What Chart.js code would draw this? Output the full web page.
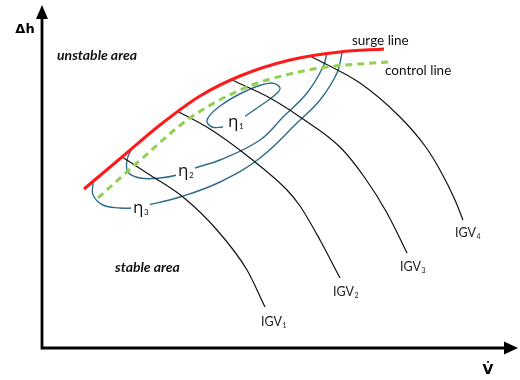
<!DOCTYPE html>
<html>
<head>
<meta charset="utf-8">
<script src="https://cdn.jsdelivr.net/npm/chart.js@4/dist/chart.umd.min.js"></script>
<style>
  html, body { margin: 0; padding: 0; background: #ffffff; }
  canvas { display: block; }
</style>
</head>
<body>
<canvas id="map" width="520" height="380"></canvas>
<script>
// Compressor performance map: volume flow (x) against head (y), arbitrary units.
// Each curve is a list of [flow, head] pairs.
const surgeLine   = [[42,159],[80,191],[118,223],[158,252],[198,272],[248,288],[298,296],[342,299]];
const controlLine = [[56,150],[95,185],[148,230],[205,261],[248,274],[285,281],[346,286]];

const igv1 = [[80,191],[108,173],[141,151],[175,118],[205,78],[223,41]];
const igv2 = [[135,237],[168,219],[208,190],[245,158],[258,142],[278,108],[298,70]];
const igv3 = [[190,268],[228,250],[258,231],[298,201],[323,170],[345,135],[365,95]];
const igv4 = [[268,292],[318,265],[358,231],[383,202],[398,178],[413,148],[421,128]];

const eta1 = [[199,229],[218,242],[233,253],[238,260],[229,265],[206,258],[178,242],[165,228],[170,221],[181,221]];
const eta2 = [[90,200],[85,188],[86,176],[98,170],[118,170],[135,173],[153,180],[178,188],[218,208],[241,231],[265,255],[281,281],[285,295]];
const eta3 = [[51,165],[51,153],[61,143],[78,140],[90,140],[106,143],[138,151],[178,166],[218,190],[255,225],[278,248],[295,275],[300,295]];

// Text shown on the map
const regionLabels = ['unstable area', 'stable area'];
const lineLabels   = ['surge line', 'control line'];
const etaLabels    = ['η', 'η', 'η'];
const etaIndex     = ['1', '2', '3'];
const igvLabels    = ['IGV', 'IGV', 'IGV', 'IGV'];
const igvIndex     = ['1', '2', '3', '4'];
const axisTitles   = ['Δh', 'V\u0307'];

const toXY = arr => arr.map(([x, y]) => ({ x, y }));

const BLUE = '#2d6b8c';
// monotone curves follow the flow direction; loops use plain tension
function curve(data, color, width, order, opts) {
  return Object.assign({
    data: toXY(data),
    showLine: true,
    borderColor: color,
    borderWidth: width,
    pointRadius: 0,
    cubicInterpolationMode: 'monotone',
    tension: 0.4,
    fill: false,
    order: order
  }, opts || {});
}
const loop = { cubicInterpolationMode: 'default', tension: 0.4 };

// Annotation positions in data units
const textPlacement = {
  regions: [[15, 293], [73, 81]],
  lines:   [[310, 307], [343, 277]],
  etas:    [[186, 226], [136, 177], [91, 140]],
  igvs:    [[219, 26], [291, 56], [358, 81], [413, 115]],
  axes:    [[-17, 318], [446, -22]]
};

function drawSub(ctx, base, sub, x, y, font, subFont, color, clearBg) {
  ctx.font = font;
  const wb = ctx.measureText(base).width;
  ctx.font = subFont;
  const ws = ctx.measureText(sub).width;
  if (clearBg) {
    ctx.fillStyle = '#ffffff';
    ctx.fillRect(x - 2, y - 7, wb + ws + 4, 14);
  }
  ctx.fillStyle = color;
  ctx.textAlign = 'left';
  ctx.textBaseline = 'middle';
  ctx.font = font;
  ctx.fillText(base, x, y);
  ctx.font = subFont;
  ctx.fillText(sub, x + wb + 0.5, y + 4);
}

const mapDecor = {
  id: 'mapDecor',
  afterDatasetsDraw(chart) {
    const { ctx, chartArea: a, scales: { x: sx, y: sy } } = chart;
    const px = v => sx.getPixelForValue(v);
    const py = v => sy.getPixelForValue(v);
    ctx.save();

    // axes with arrow heads
    ctx.strokeStyle = '#000';
    ctx.fillStyle = '#000';
    ctx.lineWidth = 2.8;
    ctx.beginPath();
    ctx.moveTo(a.left, a.bottom);
    ctx.lineTo(a.left, a.top + 12);
    ctx.moveTo(a.left - 1.4, a.bottom);
    ctx.lineTo(a.right - 12, a.bottom);
    ctx.stroke();
    ctx.beginPath();
    ctx.moveTo(a.left, a.top);
    ctx.lineTo(a.left - 6, a.top + 14);
    ctx.lineTo(a.left + 6, a.top + 14);
    ctx.closePath();
    ctx.fill();
    ctx.beginPath();
    ctx.moveTo(a.right, a.bottom);
    ctx.lineTo(a.right - 14, a.bottom - 6.5);
    ctx.lineTo(a.right - 14, a.bottom + 6.5);
    ctx.closePath();
    ctx.fill();

    // axis titles
    ctx.textAlign = 'center';
    ctx.textBaseline = 'middle';
    ctx.font = 'bold 13px "DejaVu Sans", sans-serif';
    ctx.fillText(axisTitles[0], px(textPlacement.axes[0][0]), py(textPlacement.axes[0][1]));
    ctx.font = 'bold 14px "DejaVu Sans", sans-serif';
    ctx.fillText(axisTitles[1], px(textPlacement.axes[1][0]), py(textPlacement.axes[1][1]));

    // region names
    ctx.textAlign = 'left';
    ctx.fillStyle = '#111';
    ctx.font = 'italic bold 14px Lato, "Open Sans", sans-serif';
    regionLabels.forEach((s, i) => {
      const [x, y] = textPlacement.regions[i];
      ctx.fillText(s, px(x), py(y));
    });

    // line names
    ctx.font = '13.5px Lato, "Open Sans", sans-serif';
    lineLabels.forEach((s, i) => {
      const [x, y] = textPlacement.lines[i];
      ctx.fillText(s, px(x), py(y));
    });

    // efficiency labels, sitting on their contours
    etaLabels.forEach((s, i) => {
      const [x, y] = textPlacement.etas[i];
      drawSub(ctx, s, etaIndex[i], px(x), py(y),
        '17px "Open Sans", "Noto Sans", sans-serif', '8px Lato, sans-serif', '#111', true);
    });

    // guide vane labels
    igvLabels.forEach((s, i) => {
      const [x, y] = textPlacement.igvs[i];
      drawSub(ctx, s, igvIndex[i], px(x), py(y),
        '12.5px Lato, "Open Sans", sans-serif', '7px Lato, sans-serif', '#222', false);
    });

    ctx.restore();
  }
};

new Chart(document.getElementById('map'), {
  type: 'scatter',
  data: {
    datasets: [
      curve(surgeLine, '#ff1a1a', 3, 0),
      curve(controlLine, '#92d050', 3, 1, { borderDash: [7, 5] }),
      curve(eta1, BLUE, 1.4, 3, loop),
      curve(eta2, BLUE, 1.4, 3, loop),
      curve(eta3, BLUE, 1.4, 3, loop),
      curve(igv1, '#111', 1.2, 2),
      curve(igv2, '#111', 1.2, 2),
      curve(igv3, '#111', 1.2, 2),
      curve(igv4, '#111', 1.2, 2)
    ]
  },
  options: {
    responsive: false,
    animation: false,
    events: [],
    layout: { padding: { left: 42, right: 2, top: 5, bottom: 32 } },
    scales: {
      x: { type: 'linear', min: 0, max: 476, display: false },
      y: { type: 'linear', min: 0, max: 343, display: false }
    },
    plugins: { legend: { display: false }, tooltip: { enabled: false } }
  },
  plugins: [mapDecor]
});
</script>
</body>
</html>
